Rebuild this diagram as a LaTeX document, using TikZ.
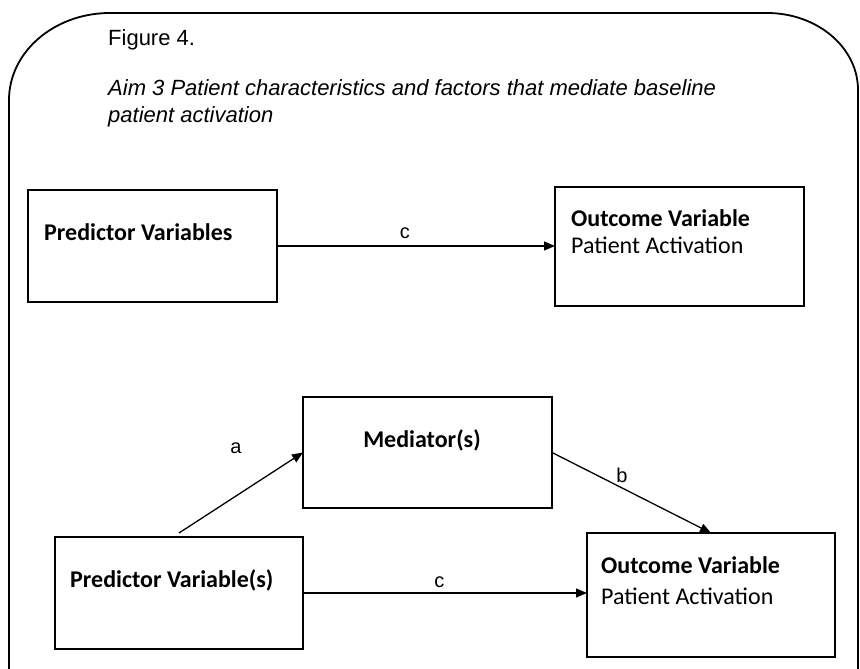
\documentclass[tikz,border=0pt]{standalone}
\usepackage{fontspec}
\setmainfont{Liberation Sans}
\newfontfamily\carlito{Carlito}
\usetikzlibrary{arrows.meta}

\begin{document}
\begin{tikzpicture}[x=1pt,y=1pt,
    box/.style={draw, line width=1.6pt, inner sep=0pt, outer sep=0pt, minimum width=249pt},
    boxtext/.style={anchor=west, align=left, inner sep=0pt, font=\carlito\fontsize{24}{27}\selectfont},
    link/.style={line width=1.3pt, -{Triangle[length=11pt,width=9pt]}},
    lbl/.style={inner sep=0pt, font=\fontsize{20}{24}\selectfont}]
    \useasboundingbox (0,0) rectangle (860,669);
    \draw[line width=1.8pt] (9,-2) -- (9,569)
      arc[start angle=180, end angle=90, x radius=101, y radius=87] -- (767,656)
      arc[start angle=90, end angle=0, x radius=91, y radius=77] -- (858,-2);

    \node[anchor=west, inner sep=0pt, font=\fontsize{22}{26}\selectfont] (fig) at (108,629) {Figure 4.};
    \node[anchor=west, align=left, inner sep=0pt, font=\itshape\fontsize{22}{27}\selectfont] (aim) at (108,565.5)
      {Aim 3 Patient characteristics and factors that mediate baseline\\patient activation};

    \node[box, minimum height=112pt] (predtop) at (152.5,423) {};
    \node[box, minimum height=119pt] (outtop) at (679.5,422.5) {};
    \node[box, minimum height=111pt] (med) at (427.5,216.5) {};
    \node[box, minimum width=248pt, minimum height=112pt] (predbot) at (179,76) {};
    \node[box, minimum width=248pt, minimum height=124pt] (outbot) at (711,74) {};

    \node[boxtext] (predtoptext) at (44,437) {\bfseries Predictor Variables};
    \node[boxtext] (outtoptext) at (571,437.5) {\bfseries Outcome Variable\\Patient Activation};
    \node[boxtext, anchor=center] (medtext) at (422,229) {\bfseries Mediator(s)};
    \node[boxtext] (predbottext) at (70,89) {\bfseries Predictor Variable(s)};
    \node[boxtext] (outbottext) at (601,88.5) {\bfseries Outcome Variable\\[4pt]Patient Activation};

    \draw[link] (predtop.east) -- node[lbl, pos=0.46, above=7pt] (ctop) {c} (predtop.east -| outtop.west);
    \draw[link] ([yshift=4pt]predbot.north) -- node[lbl, pos=0.46, above=42pt] (la) {a} (med.west);
    \draw[link] (med.east) -- node[lbl, pos=0.44, above=5pt] (lb) {b} (outbot.north);
    \draw[link] (predbot.east) -- node[lbl, pos=0.48, above=5pt] (cbot) {c} (predbot.east -| outbot.west);
\end{tikzpicture}
\end{document}
